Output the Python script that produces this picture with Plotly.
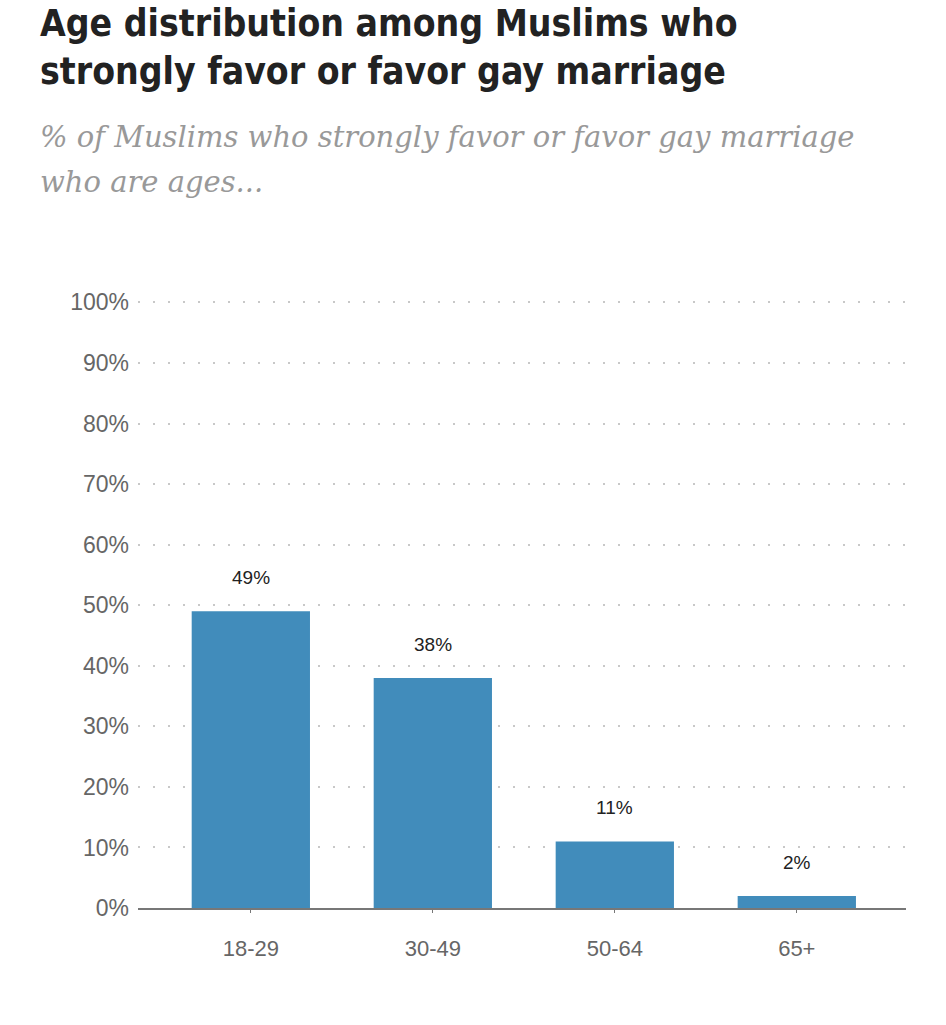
import plotly.graph_objects as go

categories = ["18-29", "30-49", "50-64", "65+"]
values = [49, 38, 11, 2]
labels = ["49%", "38%", "11%", "2%"]
ytick_vals = [0, 10, 20, 30, 40, 50, 60, 70, 80, 90, 100]
ytick_text = ["0%", "10%", "20%", "30%", "40%", "50%", "60%", "70%", "80%", "90%", "100%"]

fig = go.Figure()
fig.add_trace(go.Bar(
    x=categories, y=values,
    marker=dict(color="#418cbb", line=dict(width=0)),
    width=0.65,
))

for c, v, t in zip(categories, values, labels):
    fig.add_annotation(
        x=c, y=v, text=t, showarrow=False, yanchor="bottom", yshift=21,
        font=dict(family="Liberation Sans, Arial", size=19, color="#222222"),
    )

fig.update_layout(
    width=946, height=1025,
    margin=dict(l=138, r=40, t=300, b=117),
    paper_bgcolor="white", plot_bgcolor="white",
    showlegend=False,
    font=dict(family="Liberation Sans, Arial", color="#666666"),
    xaxis=dict(
        range=[-0.62, 3.60], showgrid=False, showline=True, linecolor="#777777", linewidth=2,
        ticks="outside", ticklen=3, tickcolor="#777777", ticklabelstandoff=17,
        tickfont=dict(size=22, color="#666666", family="Liberation Sans Narrow, Liberation Sans, Arial"),
    ),
    yaxis=dict(
        range=[0, 100.4], tickvals=ytick_vals, ticktext=ytick_text,
        showgrid=True, gridcolor="#c8c8c8", gridwidth=1.5, griddash="2px,13px",
        zeroline=False, showline=False, ticks="", ticklabelstandoff=8,
        tickfont=dict(size=23, color="#666666", family="Liberation Sans, Arial"),
    ),
)

fig.add_annotation(
    text="<b>Age distribution among Muslims who<br>strongly favor or favor gay marriage</b>",
    xref="paper", yref="paper", x=0, y=1, xanchor="left", yanchor="bottom",
    xshift=-100, yshift=205, showarrow=False, align="left",
    font=dict(family="Liberation Sans Narrow, DejaVu Sans Condensed, Arial", size=37, color="#222222"),
)
for line, ys in [("<i>% of Muslims who strongly favor or favor gay marriage</i>", 163),
                 ("<i>who are ages...</i>", 118)]:
    fig.add_annotation(
        text=line,
        xref="paper", yref="paper", x=0, y=1, xanchor="left", yanchor="middle",
        xshift=-100, yshift=ys, showarrow=False, align="left",
        font=dict(family="DejaVu Serif, serif", size=29, color="#999999"),
    )

fig.write_html("out.html")
